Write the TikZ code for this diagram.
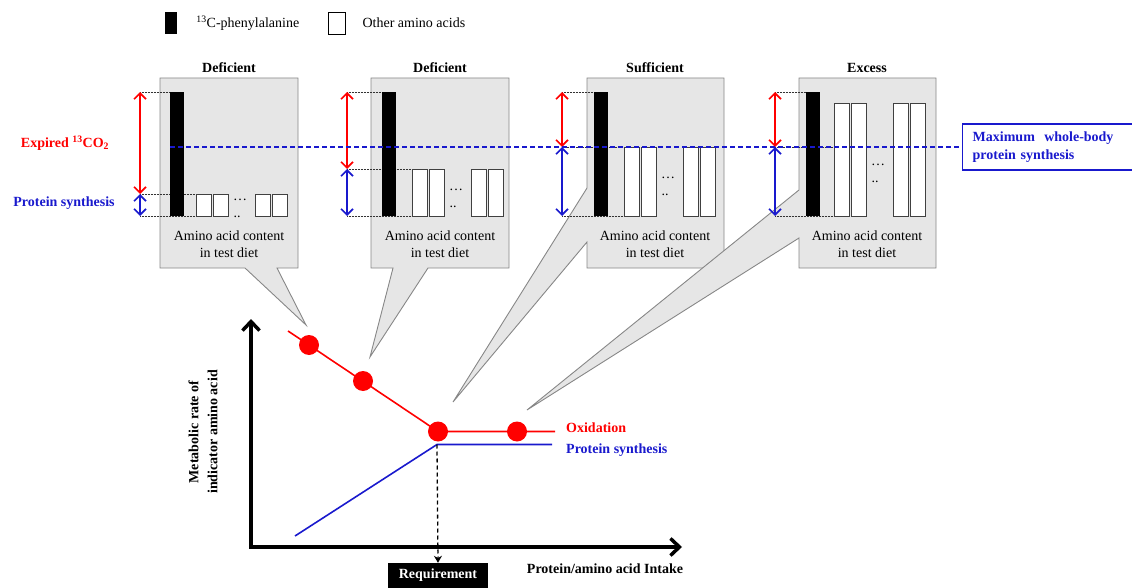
\documentclass[tikz,border=0pt]{standalone}
\usepackage{fontspec}
\setmainfont{Liberation Serif}
\usetikzlibrary{arrows.meta,positioning,calc}
\definecolor{oxred}{RGB}{255,0,0}
\definecolor{synblue}{RGB}{25,25,205}
\definecolor{panelgray}{RGB}{230,230,230}
\definecolor{panelline}{RGB}{135,135,135}

\begin{document}
\begin{tikzpicture}[x=1pt, y=-1pt, every node/.style={inner sep=0pt},
  lbl/.style={font=\fontsize{14}{17}\selectfont},
  blbl/.style={font=\fontsize{14}{17}\selectfont\bfseries},
  panel/.style={draw=panelline, fill=panelgray, line width=0.9pt, line join=miter},
  blackbar/.style={fill=black},
  whitebar/.style={draw=black!75, fill=white, line width=0.9pt},
  guide/.style={densely dotted, line width=0.5pt, black!80},
  redarr/.style={oxred, line width=1.6pt, {Straight Barb[length=6pt,width=12pt]}-{Straight Barb[length=6pt,width=12pt]}},
  bluearr/.style={synblue, line width=1.6pt, {Straight Barb[length=6pt,width=12pt]}-{Straight Barb[length=6pt,width=12pt]}},
  maxline/.style={synblue, dash pattern=on 5pt off 3pt, line width=1.4pt},
  axis/.style={black, line width=3.5pt, line join=miter, {Straight Barb[length=9pt,width=17pt]}-{Straight Barb[length=9pt,width=17pt]}}]
  \useasboundingbox (0,0) rectangle (1132,588);

  % Legend
  \node[fill=black, minimum width=12pt, minimum height=22pt] (legphe) at (171,23) {};
  \node[lbl, right=19pt of legphe] (legphetxt) {\textsuperscript{13}C-phenylalanine};
  \node[draw=black, line width=0.8pt, fill=white, minimum width=17pt, minimum height=22pt] (legoth) at (336.5,23) {};
  \node[lbl, right=17pt of legoth] (legothtxt) {Other amino acids};

  % Callout panels
  \draw[panel] (160,78) -- (298,78) -- (298,268) -- (277,268) -- (306,325) -- (245,268) -- (160,268) -- cycle;
  \draw[panel] (371,78) -- (509,78) -- (509,268) -- (428,268) -- (370,357) -- (393,268) -- (371,268) -- cycle;
  \draw[panel] (587,78) -- (724,78) -- (724,268) -- (587,268) -- (587,242) -- (453,402) -- (587,188) -- cycle;
  \draw[panel] (799,78) -- (936,78) -- (936,268) -- (799,268) -- (799,238) -- (527,410) -- (799,190) -- cycle;

  % Panel contents: bar, arrows, other amino acids
  \foreach \bx/\arr/\wl/\split/\wtop/\dy/\mid/\ttl [count=\i] in
      {170/140/196/194/194/203/229/Deficient,
       382/347/412/169/169/193/440/Deficient,
       594/562/624/147/147/181/655/Sufficient,
       806/775/834/147/103/168/867/Excess} {
    \coordinate (ctop) at (\arr,92);
    \coordinate (csplit) at (\arr,\split);
    \coordinate (cbot) at (\arr,216);
    \draw[guide] (ctop) -- (\bx,92);
    \draw[guide] (csplit) -- (\wl,\split);
    \draw[guide] (cbot) -- (\wl,216);
    \fill[blackbar] (\bx,92) rectangle ++(13.5,124);
    \foreach \o in {0,17,59,76}
      \draw[whitebar] (\wl+\o,\wtop) rectangle ++(15,{216-\wtop});
    \node[lbl] (dots\i) at (\wl+44,\dy-3) {\dots};
    \node[lbl] (ddots\i) at (\wl+41,\dy+14) {..};
    \draw[redarr] (ctop) -- (csplit);
    \draw[bluearr] (csplit) -- (cbot);
    \node[blbl] (title\i) at (\mid,68) {\ttl};
    \node[lbl, align=center] (content\i) at (\mid,244.5) {Amino acid content\\in test diet};
  }

  % Side labels
  \node[blbl, text=oxred] (expired) at (65,143) {Expired \textsuperscript{13}CO\textsubscript{2}};
  \node[blbl, text=synblue] (psleft) at (64,203) {Protein synthesis};

  % Maximum whole-body protein synthesis
  \node[draw=synblue, line width=1.4pt, text=synblue, font=\fontsize{14}{18}\selectfont\bfseries,
        align=left, text width=160pt, inner xsep=10pt, minimum height=46pt, anchor=west] (maxps) at (962,147) {Maximum\ \ whole-body\\protein synthesis};
  \coordinate (maxstart) at (170,147);
  \draw[maxline] (maxstart) -- (maxps.west);

  % Graph
  \coordinate (O) at (251,547);
  \coordinate (ytip) at (251,319);
  \coordinate (xtip) at (682,547);
  \draw[axis] (ytip) -- (O) -- (xtip);

  \coordinate (r0) at (288,331);
  \coordinate (rk) at (438,431.5);
  \coordinate (r1) at (555,431.5);
  \draw[oxred, line width=1.6pt] (r0) -- (rk) -- (r1);
  \coordinate (b0) at (295,536);
  \coordinate (bk) at (437,444.5);
  \coordinate (b1) at (552,444.5);
  \draw[synblue, line width=1.6pt] (b0) -- (bk) -- (b1);

  \coordinate (d1) at (309,345);
  \coordinate (d2) at (363,381);
  \coordinate (d3) at (438,431.5);
  \coordinate (d4) at (517,431.5);
  \foreach \point in {d1,d2,d3,d4}
    \fill[oxred] (\point) circle (10pt);

  \node[blbl, text=oxred, anchor=west] (oxlbl) at (566,428) {Oxidation};
  \node[blbl, text=synblue, anchor=west] (pslbl) at (566,450) {Protein synthesis};

  \node[blbl, fill=black, text=white, minimum width=100pt, minimum height=25pt] (req) at (438,575.5) {Requirement};
  \draw[black, line width=1.3pt, dash pattern=on 4pt off 3pt, -{Stealth[length=7pt,width=8pt]}] (bk) -- (req.north);

  \node[blbl] (xlbl) at (605,569) {Protein/amino acid Intake};
  \node[blbl, rotate=90, align=center, font=\fontsize{14}{19}\selectfont\bfseries] (ylbl) at (203,432) {Metabolic rate of\\indicator amino acid};
\end{tikzpicture}
\end{document}
